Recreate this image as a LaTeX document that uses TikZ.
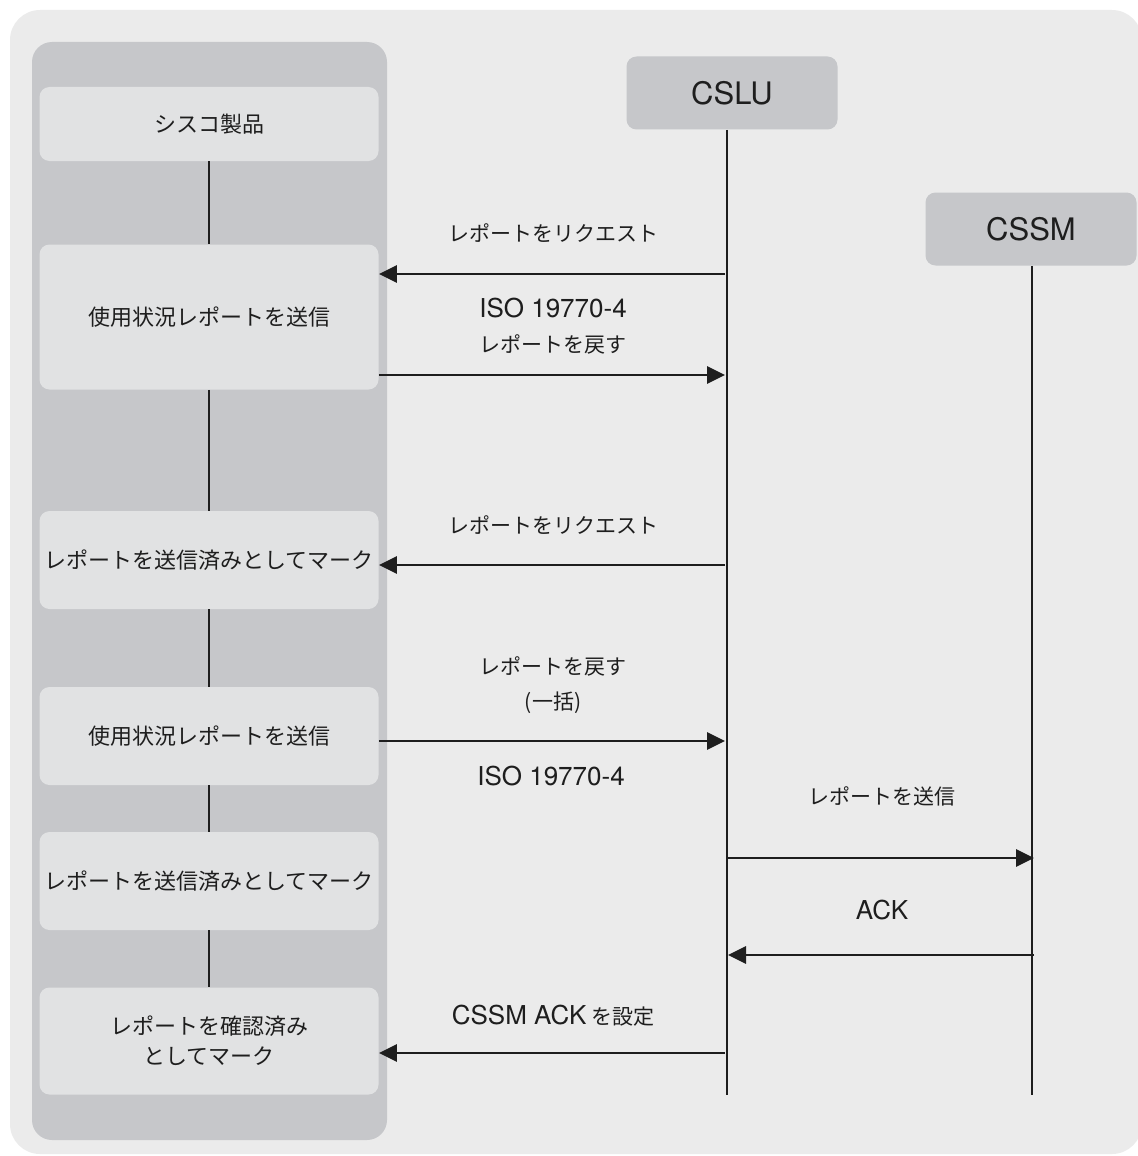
\documentclass[tikz,border=0pt]{standalone}
\usepackage{fontspec}
\setmainfont{Noto Sans CJK JP}
\newfontfamily\latfont{TeX Gyre Heros}
\usetikzlibrary{arrows.meta,positioning}

\definecolor{paneback}{HTML}{EBEBEB}
\definecolor{colgray}{HTML}{C6C7CA}
\definecolor{boxgray}{HTML}{E1E2E3}
\definecolor{inkgray}{HTML}{1E1E1E}

\begin{document}
\begin{tikzpicture}[x=0.5pt,y=-0.5pt,>={Triangle[length=9pt,width=8.5pt]},
  font=\fontsize{11}{15}\selectfont,text=inkgray]
\tikzstyle{actbox} = [rounded corners=5pt,fill=boxgray,minimum width=169.5pt,align=center,inner sep=0pt]
\tikzstyle{headbox} = [rounded corners=5pt,fill=colgray,minimum width=105.5pt,minimum height=36.5pt,font=\latfont\fontsize{15.5}{18}\selectfont]
\tikzstyle{msg} = [->,line width=1.4pt,draw=inkgray]
\tikzstyle{life} = [line width=1pt,draw=inkgray]
\tikzstyle{lbl} = [align=center,font=\fontsize{10.5}{17.5}\selectfont]
\tikzstyle{latlbl} = [font=\latfont\fontsize{13}{17}\selectfont]
    \useasboundingbox (0,0) rectangle (1137,1156);
    \fill[paneback,rounded corners=15pt] (10,10) rectangle (1142,1154);
    \fill[colgray,rounded corners=10pt] (32,42) rectangle (387,1140);

    % device side
    \node[actbox,minimum height=37pt] (prod) at (209,124) {シスコ製品};
    \node[actbox,minimum height=72.5pt] (send1) at (209,317) {使用状況レポートを送信};
    \node[actbox,minimum height=49pt] (mark1) at (209,560) {レポートを送信済みとしてマーク};
    \node[actbox,minimum height=49pt] (send2) at (209,736) {使用状況レポートを送信};
    \node[actbox,minimum height=49pt] (mark2) at (209,881) {レポートを送信済みとしてマーク};
    \node[actbox,minimum height=53.5pt] (ackd) at (209,1041) {レポートを確認済み\\としてマーク};

    \draw[life] (prod) -- (send1);
    \draw[life] (send1) -- (mark1);
    \draw[life] (mark1) -- (send2);
    \draw[life] (send2) -- (mark2);
    \draw[life] (mark2) -- (ackd);

    % lifelines
    \node[headbox] (cslu) at (732,93) {CSLU};
    \node[headbox] (cssm) at (1031,229) {CSSM};
    \coordinate (csluend) at (727,1095);
    \coordinate (cssmend) at (1032,1095);
    \draw[life] (cslu.south -| csluend) -- (csluend);
    \draw[life] (cssm.south -| cssmend) -- (cssmend);

    % messages
    \coordinate (req1) at (725,274);
    \coordinate (ret1) at (725,375);
    \coordinate (req2) at (725,565);
    \coordinate (ret2) at (725,741);
    \coordinate (upl) at (728,858);
    \coordinate (uplend) at (1034,858);
    \coordinate (ack) at (1034,955);
    \coordinate (ackend) at (728,955);
    \coordinate (setack) at (725,1053);

    \draw[msg] (req1) -- (req1 -| send1.east);
    \draw[msg] (ret1 -| send1.east) -- (ret1);
    \draw[msg] (req2) -- (req2 -| mark1.east);
    \draw[msg] (ret2 -| send2.east) -- (ret2);
    \draw[msg] (upl) -- (uplend);
    \draw[msg] (ack) -- (ackend);
    \draw[msg] (setack) -- (setack -| ackd.east);

    \node[lbl] (reqtxt1) at (553,233) {レポートをリクエスト};
    \node[lbl] (rettxt1) at (553,326) {{\latfont\fontsize{13}{17}\selectfont ISO 19770-4}\\レポートを戻す};
    \node[lbl] (reqtxt2) at (553,525) {レポートをリクエスト};
    \node[lbl] (rettxt2) at (553,685) {レポートを戻す\\(一括)};
    \node[latlbl] (isotxt) at (551,776) {ISO 19770-4};
    \node[lbl] (upltxt) at (882,796) {レポートを送信};
    \node[latlbl] (acktxt) at (882,910) {ACK};
    \node[lbl] (settxt) at (553,1016) {{\latfont\fontsize{13}{17}\selectfont CSSM ACK} を設定};
\end{tikzpicture}
\end{document}
